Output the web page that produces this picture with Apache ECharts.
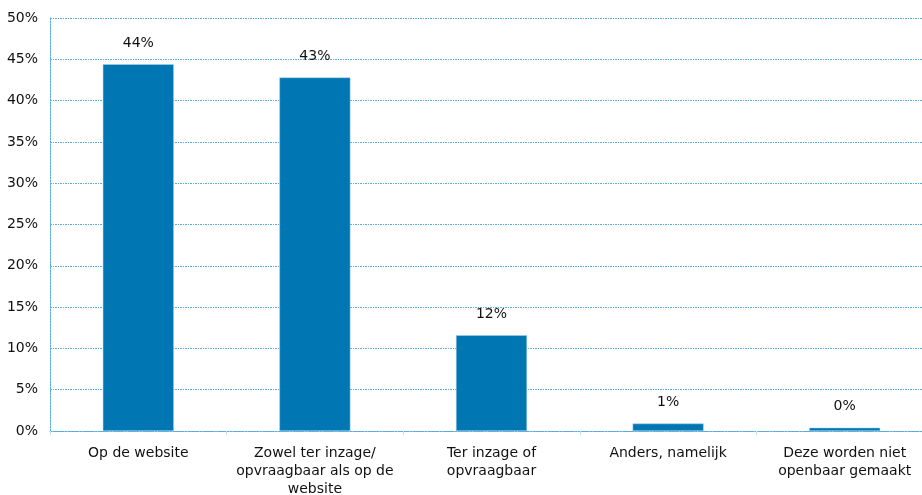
<!DOCTYPE html>
<html><head><meta charset="utf-8">
<script src="https://cdn.jsdelivr.net/npm/echarts@6/dist/echarts.min.js"></script>
<style>html,body{margin:0;padding:0;background:#fff}#c{width:922px;height:495px}</style>
</head><body><div id="c"></div>
<script>
var categories = ["Op de website", "Zowel ter inzage/\nopvraagbaar als op de\nwebsite", "Ter inzage of\nopvraagbaar", "Anders, namelijk", "Deze worden niet\nopenbaar gemaakt"];
var values = [44.4, 42.8, 11.6, 0.9, 0.4];
var yTicks = [0, 5, 10, 15, 20, 25, 30, 35, 40, 45, 50];

var chart = echarts.init(document.getElementById('c'));
var gridColor = '#5aaedb';
chart.setOption({
  animation: false,
  textStyle: {fontFamily: 'DejaVu Sans'},
  grid: {left: 50, width: 883, top: 18, height: 413, containLabel: false, outerBoundsMode: 'none'},
  xAxis: {
    type: 'category', data: categories,
    axisLine: {lineStyle: {color: gridColor, type: [2, 1], width: 1}},
    axisTick: {show: true, alignWithLabel: false, length: 4, lineStyle: {color: '#c4dff0'}},
    axisLabel: {color: '#111', fontSize: 14, lineHeight: 18, margin: 13, interval: 0, fontFamily: 'DejaVu Sans'}
  },
  yAxis: {
    type: 'value', min: 0, max: 50, interval: 5,
    axisLine: {show: true, lineStyle: {color: gridColor, type: [2, 1], width: 1}},
    axisTick: {show: false},
    splitLine: {lineStyle: {color: gridColor, type: [2, 1, 1, 1], width: 1}},
    axisLabel: {color: '#111', fontSize: 14, margin: 12, formatter: '{value}%', fontFamily: 'DejaVu Sans'}
  },
  series: [{
    type: 'bar', data: values, barWidth: 71,
    itemStyle: {color: '#0077b3', borderColor: '#a8d0e8', borderWidth: 0.5},
    label: {show: true, position: 'top', distance: 14, color: '#111', fontSize: 14,
      formatter: function(p){ return Math.round(p.value) + '%'; }}
  }]
});
</script></body></html>
